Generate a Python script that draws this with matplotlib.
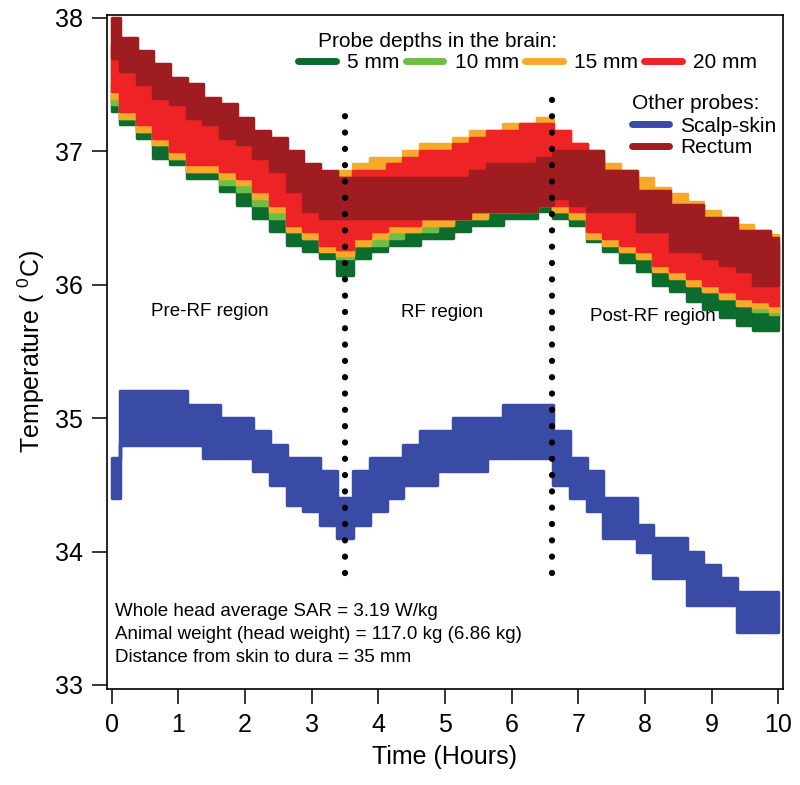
import numpy as np
import matplotlib
matplotlib.use('Agg')
import matplotlib.pyplot as plt
from matplotlib.lines import Line2D

plt.rcParams['font.family'] = ['Liberation Sans', 'DejaVu Sans']
plt.rcParams['mathtext.fontset'] = 'custom'
plt.rcParams['mathtext.rm'] = 'Liberation Sans'

# sample times (hours), every 15 min
hours = np.linspace(0, 10, 41)

# band edges (low / high), deg C
scalp_lo = [34.4, 34.8, 34.8, 34.8, 34.8, 34.8, 34.7, 34.7, 34.7, 34.6, 34.5, 34.35, 34.3, 34.2, 34.1,
            34.2, 34.3, 34.4, 34.5, 34.5, 34.6, 34.6, 34.6, 34.7, 34.7, 34.7, 34.7, 34.5, 34.4, 34.3,
            34.1, 34.1, 34.0, 33.8, 33.8, 33.6, 33.6, 33.6, 33.4, 33.4, 33.4]
scalp_hi = [34.7, 35.2, 35.2, 35.2, 35.2, 35.1, 35.1, 35.0, 35.0, 34.9, 34.8, 34.7, 34.7, 34.6, 34.4,
            34.6, 34.7, 34.7, 34.8, 34.9, 34.9, 35.0, 35.0, 35.0, 35.1, 35.1, 35.1, 34.9, 34.7, 34.6,
            34.4, 34.4, 34.2, 34.1, 34.1, 34.0, 33.9, 33.8, 33.7, 33.7, 33.7]

rectum_lo = [37.7, 37.6, 37.5, 37.4, 37.35, 37.25, 37.2, 37.1, 37.05, 36.95, 36.85, 36.7, 36.55, 36.5, 36.5,
             36.5, 36.5, 36.5, 36.5, 36.5, 36.5, 36.5, 36.55, 36.55, 36.55, 36.55, 36.6,
             36.65, 36.6, 36.55, 36.55, 36.55, 36.4, 36.4, 36.25, 36.25, 36.2, 36.15, 36.1, 36.0, 36.0]
rectum_hi = [38.0, 37.85, 37.75, 37.65, 37.55, 37.5, 37.4, 37.35, 37.25, 37.15, 37.1, 37.0, 36.9, 36.85, 36.8,
             36.8, 36.8, 36.8, 36.8, 36.8, 36.8, 36.8, 36.85, 36.9, 36.9, 36.9, 36.95,
             37.0, 37.0, 37.0, 36.85, 36.85, 36.7, 36.7, 36.6, 36.6, 36.5, 36.5, 36.4, 36.4, 36.35]

d20_lo = [37.45, 37.3, 37.2, 37.1, 37.0, 36.9, 36.9, 36.85, 36.8, 36.7, 36.6, 36.45, 36.4, 36.3, 36.27,
          36.35, 36.4, 36.45, 36.45, 36.5, 36.5, 36.55, 36.55, 36.6, 36.6, 36.6, 36.65,
          36.6, 36.55, 36.4, 36.35, 36.3, 36.25, 36.15, 36.1, 36.05, 36.0, 35.95, 35.9, 35.88, 35.85]
d20_hi = [37.8, 37.65, 37.55, 37.45, 37.4, 37.35, 37.25, 37.2, 37.1, 37.05, 36.95, 36.85, 36.8, 36.75, 36.8,
          36.85, 36.85, 36.9, 36.95, 37.0, 37.0, 37.05, 37.1, 37.15, 37.15, 37.2, 37.2,
          37.15, 37.05, 36.95, 36.85, 36.75, 36.65, 36.6, 36.55, 36.5, 36.45, 36.4, 36.35, 36.3, 36.3]

d15_lo = [37.4, 37.25, 37.15, 37.05, 36.95, 36.85, 36.85, 36.8, 36.75, 36.65, 36.55, 36.4, 36.35, 36.25, 36.22,
          36.3, 36.35, 36.4, 36.4, 36.45, 36.45, 36.5, 36.5, 36.55, 36.55, 36.55, 36.6,
          36.55, 36.5, 36.35, 36.3, 36.25, 36.2, 36.1, 36.05, 36.0, 35.95, 35.9, 35.85, 35.83, 35.8]
d15_hi = [37.75, 37.6, 37.5, 37.45, 37.4, 37.3, 37.25, 37.15, 37.1, 37.0, 36.95, 36.85, 36.8, 36.8, 36.85,
          36.9, 36.95, 36.95, 37.0, 37.05, 37.05, 37.1, 37.15, 37.15, 37.2, 37.2, 37.25,
          37.15, 37.05, 37.0, 36.9, 36.85, 36.8, 36.72, 36.68, 36.62, 36.55, 36.5, 36.45, 36.4, 36.37]

d10_lo = [37.35, 37.25, 37.15, 37.05, 36.95, 36.85, 36.85, 36.75, 36.7, 36.6, 36.5, 36.4, 36.35, 36.3, 36.2,
          36.3, 36.3, 36.35, 36.4, 36.4, 36.45, 36.5, 36.5, 36.55, 36.55, 36.6, 36.65,
          36.55, 36.5, 36.38, 36.32, 36.25, 36.2, 36.12, 36.07, 36.0, 35.95, 35.9, 35.85, 35.8, 35.78]
d10_hi = [37.5, 37.35, 37.25, 37.15, 37.05, 36.95, 36.95, 36.9, 36.85, 36.75, 36.65, 36.5, 36.45, 36.4, 36.35,
          36.4, 36.45, 36.5, 36.5, 36.55, 36.55, 36.6, 36.6, 36.65, 36.65, 36.65, 36.7,
          36.65, 36.6, 36.45, 36.4, 36.35, 36.3, 36.2, 36.15, 36.1, 36.05, 36.0, 35.95, 35.9, 35.9]

d5_lo = [37.3, 37.2, 37.1, 36.95, 36.9, 36.8, 36.8, 36.7, 36.6, 36.5, 36.4, 36.3, 36.25, 36.2, 36.07,
         36.2, 36.25, 36.3, 36.3, 36.35, 36.35, 36.4, 36.45, 36.45, 36.5, 36.5, 36.55,
         36.5, 36.45, 36.33, 36.25, 36.17, 36.1, 36.0, 35.95, 35.88, 35.82, 35.76, 35.7, 35.66, 35.66]
d5_hi = [37.45, 37.3, 37.2, 37.1, 37.0, 36.9, 36.9, 36.8, 36.75, 36.65, 36.5, 36.45, 36.4, 36.35, 36.25,
         36.35, 36.4, 36.45, 36.45, 36.5, 36.5, 36.55, 36.6, 36.6, 36.65, 36.65, 36.7,
         36.6, 36.55, 36.45, 36.4, 36.3, 36.25, 36.2, 36.1, 36.05, 36.0, 35.95, 35.9, 35.85, 35.85]

# RF on / off markers
rf_hours = [3.5, 6.6]
rf_tops = [37.33, 37.43]
rf_bottom = 33.84

brain_labels = ['5 mm', '10 mm', '15 mm', '20 mm']
other_labels = ['Scalp-skin', 'Rectum']
notes = ['Whole head average SAR = 3.19 W/kg',
         'Animal weight (head weight) = 117.0 kg (6.86 kg)',
         'Distance from skin to dura = 35 mm']

c5, c10, c15, c20 = '#0d6b2e', '#6cbf45', '#f7a92a', '#ee2326'
c_rect, c_scalp = '#9f1c20', '#3a4ba6'

fig = plt.figure(figsize=(8, 7.85), dpi=100)
ax = fig.add_axes([0.1334, 0.1223, 0.8454, 0.8586])

bands = [(d5_lo, d5_hi, c5), (d10_lo, d10_hi, c10), (d15_lo, d15_hi, c15),
         (d20_lo, d20_hi, c20), (rectum_lo, rectum_hi, c_rect), (scalp_lo, scalp_hi, c_scalp)]
for lo, hi, col in bands:
    ax.fill_between(hours, lo, hi, step='mid', facecolor=col, edgecolor=col,
                    linewidth=2.5, joinstyle='round')

for x, top in zip(rf_hours, rf_tops):
    ax.plot([x, x], [rf_bottom, top], color='black', lw=4.5,
            linestyle=(0, (0.01, 2.6)), dash_capstyle='round', zorder=5)

ax.set_xlim(-0.075, 10.07)
ax.set_ylim(32.97, 38.02)
ax.set_xticks(range(0, 11))
ax.set_yticks(range(33, 39))
ax.tick_params(direction='out', length=11, width=1.1, labelsize=18, pad=6)
for s in ax.spines.values():
    s.set_linewidth(1.2)

ax.set_xlabel('Time (Hours)', fontsize=18, labelpad=6)
ax.set_ylabel('Temperature ( $^{0}$C)', fontsize=18, labelpad=6)

# region labels
ax.text(1.47, 35.8, 'Pre-RF region', fontsize=13.5, ha='center', va='center')
ax.text(4.95, 35.79, 'RF region', fontsize=13.5, ha='center', va='center')
ax.text(8.12, 35.76, 'Post-RF region', fontsize=13.5, ha='center', va='center')

for i, line in enumerate(notes):
    ax.text(0.05, 33.55 - i * 0.173, line, fontsize=13.5, ha='left', va='center')

# legends
h1 = [Line2D([], [], color=c, lw=5, solid_capstyle='round') for c in (c5, c10, c15, c20)]
leg1 = ax.legend(h1, brain_labels, ncol=4, loc='upper left', bbox_to_anchor=(0.283, 0.943),
                 frameon=False, fontsize=15, handlelength=1.8, handletextpad=0.55,
                 columnspacing=0.3, borderpad=0, borderaxespad=0)
ax.add_artist(leg1)
h2 = [Line2D([], [], color=c, lw=5, solid_capstyle='round') for c in (c_scalp, c_rect)]
ax.legend(h2, other_labels, loc='upper left', bbox_to_anchor=(0.777, 0.849),
          frameon=False, fontsize=15, handlelength=1.75, handletextpad=0.55,
          labelspacing=0.12, borderpad=0, borderaxespad=0)

ax.text(0.3124, 0.961, 'Probe depths in the brain:', transform=ax.transAxes,
        fontsize=15, ha='left', va='center')
ax.text(0.777, 0.868, 'Other probes:', transform=ax.transAxes,
        fontsize=15, ha='left', va='center')

fig.savefig('out.png', dpi=100)
